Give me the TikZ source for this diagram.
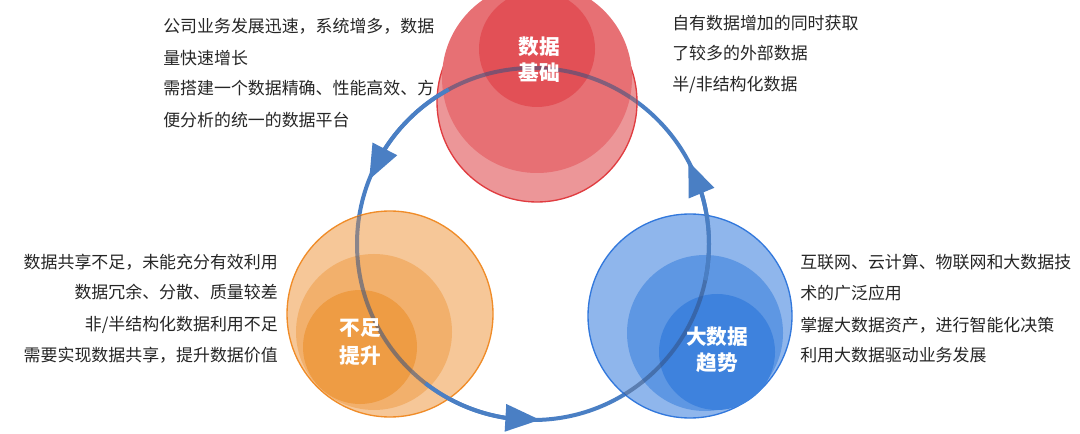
\documentclass[tikz,border=0pt]{standalone}
\usepackage{fontspec}
\setmainfont{Noto Sans CJK SC}
\usetikzlibrary{arrows.meta,bending}
\definecolor{arrowblue}{RGB}{74,127,196}
\definecolor{ovl}{RGB}{50,80,130}
\definecolor{txt}{RGB}{38,38,38}
\definecolor{rOut}{RGB}{236,150,152}
\definecolor{rMid}{RGB}{231,112,116}
\definecolor{rIn}{RGB}{226,80,86}
\definecolor{rEdge}{RGB}{224,60,64}
\definecolor{oOut}{RGB}{246,199,152}
\definecolor{oMid}{RGB}{242,176,108}
\definecolor{oIn}{RGB}{238,156,68}
\definecolor{oEdge}{RGB}{240,140,40}
\definecolor{bOut}{RGB}{143,182,236}
\definecolor{bMid}{RGB}{94,151,227}
\definecolor{bIn}{RGB}{62,130,221}
\definecolor{bEdge}{RGB}{50,120,220}
\tikzset{
  body/.style={inner sep=0pt, text=txt, font=\fontsize{12.7pt}{15pt}\selectfont},
  lbl/.style={inner sep=0pt, text=white, font=\fontsize{15.5pt}{18pt}\selectfont\bfseries},
  cyc/.style={arrowblue, line width=3pt},
  cyctip/.style={cyc, -{Triangle[length=26pt,width=20pt]}},
}
\begin{document}
\begin{tikzpicture}[x=0.75pt,y=-0.75pt]
\useasboundingbox (0,0) rectangle (1080,434);
\fill[white] (0,0) rectangle (1080,434);
\begin{scope}
\clip (0,0) rectangle (1080,434);
% cycle ring
\draw[cyc] (533,244) circle[radius=176];
% red group
\fill[rOut, draw=rEdge, line width=1pt] (537,102) circle[radius=100];
\fill[rMid] (537,78) circle[radius=95];
\fill[rIn] (537,49) circle[radius=58];
% orange group
\fill[oOut, draw=oEdge, line width=1pt] (390,314) circle[radius=103];
\fill[oMid] (374,332) circle[radius=78];
\fill[oIn] (360,347) circle[radius=57];
% blue group
\fill[bOut, draw=bEdge, line width=1pt] (690,316) circle[radius=102];
\fill[bMid] (705,333) circle[radius=78];
\fill[bIn] (717,352) circle[radius=58];
% ring seen through circles
\foreach \x/\y/\r in {537/102/100, 390/314/103, 690/316/102}{
  \begin{scope}
    \clip (\x,\y) circle[radius=\r];
    \draw[ovl, opacity=0.55, line width=3pt] (533,244) circle[radius=176];
  \end{scope}
}
\end{scope}
% arrow heads
\draw[cyctip] (533,244) ++(-118.6:176) arc[start angle=-118.6, end angle=-158.6, radius=176];
\draw[cyctip] (533,244) ++(-232.3:176) arc[start angle=-232.3, end angle=-272.3, radius=176];
\draw[cyctip] (533,244) ++(11.9:176) arc[start angle=11.9, end angle=-28.1, radius=176];
% circle labels
\node[lbl] (red1) at (539,47) {数据};
\node[lbl] (red2) at (539,73) {基础};
\node[lbl] (or1) at (360,328) {不足};
\node[lbl] (or2) at (360,356) {提升};
\node[lbl] (bl1) at (717,337) {大数据};
\node[lbl] (bl2) at (717,363) {趋势};
% top-left text
\node[body, anchor=west] (tl1) at (163,26) {公司业务发展迅速，系统增多，数据};
\node[body, anchor=west] (tl2) at (163,58) {量快速增长};
\node[body, anchor=west] (tl3) at (163,88) {需搭建一个数据精确、性能高效、方};
\node[body, anchor=west] (tl4) at (163,120) {便分析的统一的数据平台};
% top-right text
\node[body, anchor=west] (tr1) at (672,23) {自有数据增加的同时获取};
\node[body, anchor=west] (tr2) at (672,53) {了较多的外部数据};
\node[body, anchor=west] (tr3) at (672,85) {半/非结构化数据};
% left text
\node[body, anchor=east] (l1) at (278,262) {数据共享不足，未能充分有效利用};
\node[body, anchor=east] (l2) at (278,292) {数据冗余、分散、质量较差};
\node[body, anchor=east] (l3) at (278,325) {非/半结构化数据利用不足};
\node[body, anchor=east] (l4) at (278,355) {需要实现数据共享，提升数据价值};
% right text
\node[body, anchor=west] (r1) at (800,262) {互联网、云计算、物联网和大数据技};
\node[body, anchor=west] (r2) at (800,293) {术的广泛应用};
\node[body, anchor=west] (r3) at (800,325) {掌握大数据资产，进行智能化决策};
\node[body, anchor=west] (r4) at (800,355) {利用大数据驱动业务发展};
\end{tikzpicture}
\end{document}
